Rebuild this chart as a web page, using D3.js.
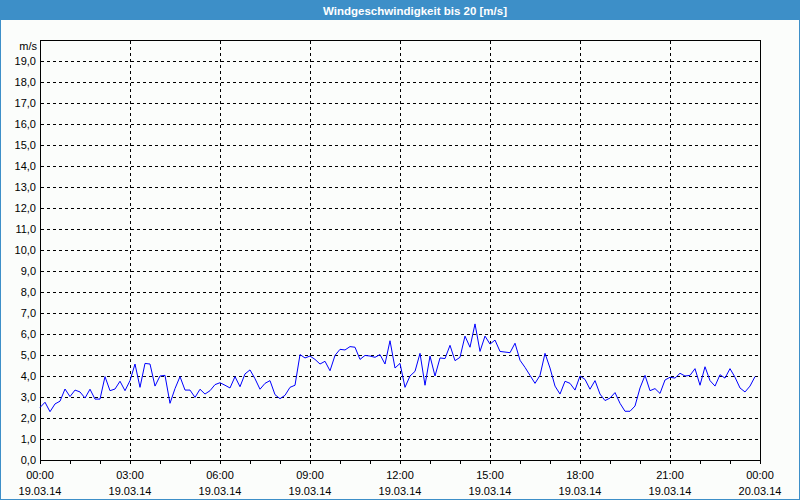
<!DOCTYPE html>
<html>
<head>
<meta charset="utf-8">
<script src="https://cdn.jsdelivr.net/npm/d3@7"></script>
<style>
html,body{margin:0;padding:0;background:#fbfdfb;}
svg{display:block;}
text{font-family:"Liberation Sans",Arial,sans-serif;}
</style>
</head>
<body>
<svg id="chart" width="800" height="500"></svg>
<script>
const title = "Windgeschwindigkeit bis 20 [m/s]";
const unitLabel = "m/s";
// 10-minute readings, 19.03.14 00:00 .. 23:50
const windSpeed = [
 2.5,2.75,2.3,2.67,2.8,3.38,3.02,3.33,3.24,2.95,3.37,2.9,2.9,3.97,3.3,3.38,3.75,3.3,
 3.78,4.57,3.46,4.6,4.57,3.52,4.0,4.03,2.7,3.4,3.97,3.33,3.33,2.98,3.37,3.14,3.3,3.59,
 3.68,3.56,3.43,3.97,3.49,4.1,4.29,3.87,3.37,3.65,3.78,3.11,2.92,3.08,3.46,3.56,5.02,4.86,
 4.95,4.79,4.57,4.7,4.25,4.98,5.27,5.24,5.4,5.37,4.79,4.98,4.95,4.89,5.02,4.57,5.68,4.38,
 4.6,3.46,4.0,4.22,5.08,3.56,4.95,4.0,4.86,4.83,5.46,4.73,4.89,5.9,5.37,6.48,5.17,5.9,
 5.52,5.71,5.17,5.14,5.11,5.56,4.75,4.41,4.03,3.65,4.03,5.08,4.38,3.52,3.14,3.75,3.65,3.33,
 4.0,3.84,3.37,3.78,3.14,2.83,2.95,3.21,2.7,2.32,2.32,2.57,3.43,4.03,3.3,3.4,3.17,3.81,
 3.94,3.9,4.13,4.0,4.03,4.35,3.56,4.44,3.78,3.52,4.06,3.9,4.35,3.94,3.43,3.24,3.52,3.97
];
const minutesPerStep = 10;
const xTickHours = [0,3,6,9,12,15,18,21,24];
const xTickTimes = ["00:00","03:00","06:00","09:00","12:00","15:00","18:00","21:00","00:00"];
const xTickDates = ["19.03.14","19.03.14","19.03.14","19.03.14","19.03.14","19.03.14","19.03.14","19.03.14","20.03.14"];
const minorTickHours = d3.range(0,25,1);
const yTickValues = d3.range(0,20,1);

const svg = d3.select("#chart");
const W = 800, H = 500;
const plot = {left:40, right:760, top:40, bottom:460};
const blue = "#3d8fc8";

// frame + title bar
svg.append("rect").attr("x",0.5).attr("y",0.5).attr("width",W-1).attr("height",H-1)
  .attr("fill","#fbfdfb").attr("stroke",blue).attr("stroke-width",1);
svg.append("rect").attr("x",0).attr("y",0).attr("width",W).attr("height",20).attr("fill",blue);
svg.append("text").attr("x",415).attr("y",14.5).attr("text-anchor","middle")
  .attr("fill","#ffffff").attr("font-weight","bold").attr("font-size","11.5px").text(title);

const x = d3.scaleLinear().domain([0,24]).range([plot.left, plot.right]);
const y = d3.scaleLinear().domain([0,20]).range([plot.bottom, plot.top]);

// gridlines
const grid = svg.append("g").attr("shape-rendering","crispEdges");
grid.selectAll(".hg").data(yTickValues.filter(v=>v>0)).enter().append("line")
  .attr("x1",plot.left+1).attr("x2",plot.right-1)
  .attr("y1",d=>Math.round(y(d))+0.5).attr("y2",d=>Math.round(y(d))+0.5)
  .attr("stroke","#000").attr("stroke-dasharray","3,3");
grid.selectAll(".vg").data(xTickHours.filter(h=>h>0&&h<24)).enter().append("line")
  .attr("x1",d=>Math.round(x(d))+0.5).attr("x2",d=>Math.round(x(d))+0.5)
  .attr("y1",plot.top+1).attr("y2",plot.bottom-1)
  .attr("stroke","#000").attr("stroke-dasharray","3,3");

// plot border
svg.append("rect").attr("x",plot.left+0.5).attr("y",plot.top+0.5)
  .attr("width",plot.right-plot.left).attr("height",plot.bottom-plot.top)
  .attr("fill","none").attr("stroke","#000").attr("stroke-width",1)
  .attr("shape-rendering","crispEdges");

// y axis labels
const yAxis = d3.axisLeft(y).tickValues(yTickValues).tickSize(0).tickPadding(4)
  .tickFormat(d=>d3.format(".1f")(d).replace(".",","));
const gy = svg.append("g").attr("transform",`translate(${plot.left},0)`).call(yAxis);
gy.select(".domain").remove();
gy.selectAll("text").attr("font-size","11px").attr("fill","#000")
  .attr("font-family","'Liberation Sans',Arial,sans-serif");
svg.append("text").attr("x",37).attr("y",50).attr("text-anchor","end")
  .attr("font-size","11px").attr("fill","#000").text(unitLabel);

// x axis minor ticks
const xAxis = d3.axisBottom(x).tickValues(minorTickHours).tickSize(3).tickFormat("");
const gx = svg.append("g").attr("transform",`translate(0,${plot.bottom+0.5})`).call(xAxis);
gx.select(".domain").remove();
gx.selectAll("line").attr("stroke","#000").attr("shape-rendering","crispEdges");

// x labels
const lab = svg.append("g");
lab.selectAll(".t").data(xTickHours).enter().append("text")
  .attr("x",d=>x(d)).attr("y",479).attr("text-anchor","middle")
  .attr("font-size","11px").attr("fill","#000").text((d,i)=>xTickTimes[i]);
lab.selectAll(".d").data(xTickHours).enter().append("text")
  .attr("x",d=>x(d)).attr("y",495).attr("text-anchor","middle")
  .attr("font-size","11px").attr("fill","#000").text((d,i)=>xTickDates[i]);

// data line
const line = d3.line().x((d,i)=>x(i*minutesPerStep/60)).y(d=>y(d));
svg.append("path").datum(windSpeed).attr("d",line)
  .attr("fill","none").attr("stroke","#0000ff").attr("stroke-width",1);
</script>
</body>
</html>
